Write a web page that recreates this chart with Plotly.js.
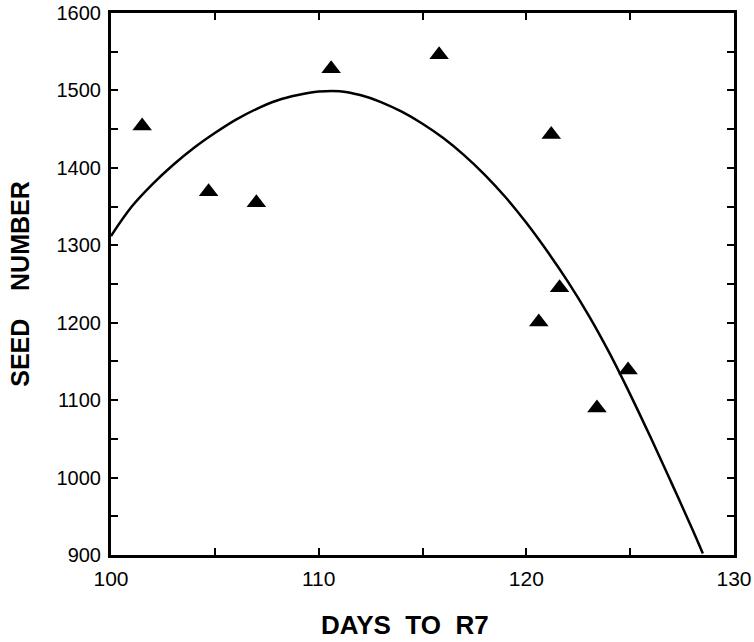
<!DOCTYPE html>
<html>
<head>
<meta charset="utf-8">
<script src="https://cdn.plot.ly/plotly-3.0.1.min.js"></script>
<style>html,body{margin:0;padding:0;background:#fff;}#chart{width:754px;height:642px;}</style>
</head>
<body>
<div id="chart"></div>
<script>
// Observed data (days to R7 vs seed number)
const daysObs = [101.5, 104.7, 107.0, 110.6, 115.8, 121.2, 120.6, 121.6, 123.4, 124.9];
const seedObs = [1454, 1369, 1355, 1528, 1546, 1443, 1201, 1245, 1090, 1139];

// Fitted curve (one reading per day)
const daysFit = [100, 101, 102, 103, 104, 105, 106, 107, 108, 109, 110, 111, 112, 113, 114, 115, 116, 117, 118, 119, 120, 121, 122, 123, 124, 125, 126, 127, 128, 128.5];
const seedFit = [1312, 1350, 1379, 1404, 1426, 1445, 1462, 1476, 1487, 1494, 1498.5, 1499, 1494, 1485, 1472.5, 1457, 1438.5, 1416.5, 1391, 1362, 1329, 1292.5, 1253, 1209.5, 1161, 1107.5, 1051, 992.5, 933, 902];

// Tick labels
const xTickVals = [100, 105, 110, 115, 120, 125, 130];
const xTickText = ['100', '', '110', '', '120', '', '130'];
const yTickVals = [900, 950, 1000, 1050, 1100, 1150, 1200, 1250, 1300, 1350, 1400, 1450, 1500, 1550, 1600];
const yTickText = ['900', '', '1000', '', '1100', '', '1200', '', '1300', '', '1400', '', '1500', '', '1600'];

const nb = '\u00a0';
const xTitle = 'DAYS' + nb.repeat(2) + 'TO' + nb.repeat(2) + 'R7';
const yTitle = 'SEED' + nb.repeat(4) + 'NUMBER';

const traces = [
  {
    x: daysFit, y: seedFit, type: 'scatter', mode: 'lines',
    line: {color: '#000', width: 2.5, shape: 'spline', smoothing: 1},
    hoverinfo: 'skip'
  },
  {
    x: daysObs, y: seedObs, type: 'scatter', mode: 'markers',
    marker: {symbol: 'triangle-up', size: 17, color: '#000'}
  }
];

const fam = 'Liberation Sans, Arial, sans-serif';
const layout = {
  width: 754, height: 642,
  margin: {l: 111, r: 20, t: 13, b: 87},
  paper_bgcolor: '#fff', plot_bgcolor: '#fff',
  showlegend: false,
  xaxis: {
    range: [100, 130], tickmode: 'array', tickvals: xTickVals, ticktext: xTickText,
    ticks: 'inside', ticklen: 7, tickwidth: 2, tickcolor: '#000',
    showline: true, linewidth: 3, linecolor: '#000', mirror: 'ticks',
    showgrid: false, zeroline: false,
    tickfont: {family: fam, size: 21, color: '#000'}, ticklabelstandoff: 3
  },
  yaxis: {
    range: [900, 1600], tickmode: 'array', tickvals: yTickVals, ticktext: yTickText,
    ticks: 'inside', ticklen: 7, tickwidth: 2, tickcolor: '#000',
    showline: true, linewidth: 3, linecolor: '#000', mirror: 'ticks',
    showgrid: false, zeroline: false,
    tickfont: {family: fam, size: 20, color: '#000'}, ticklabelstandoff: 3,
    title: {text: yTitle, font: {family: fam, size: 25, color: '#000', weight: 'bold'}, standoff: 20}
  },
  annotations: [{
    text: xTitle, xref: 'paper', yref: 'paper', x: 0.472, y: -0.129,
    xanchor: 'center', yanchor: 'middle', showarrow: false,
    font: {family: fam, size: 26, color: '#000', weight: 'bold'}
  }]
};

Plotly.newPlot('chart', traces, layout, {displayModeBar: false, staticPlot: true});
</script>
</body>
</html>
